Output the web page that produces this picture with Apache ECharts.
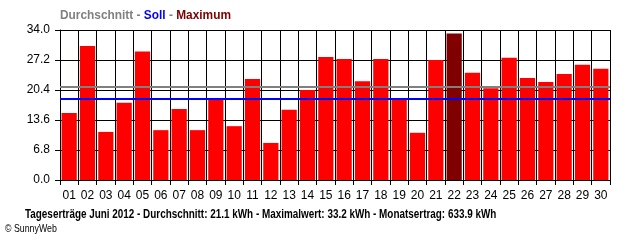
<!DOCTYPE html>
<html>
<head>
<meta charset="utf-8">
<script src="https://cdn.jsdelivr.net/npm/echarts@6/dist/echarts.min.js"></script>
<style>
html,body{margin:0;padding:0;background:#fff;}
#c{width:640px;height:240px;}
</style>
</head>
<body>
<div id="c"></div>
<script>
const days = ['01','02','03','04','05','06','07','08','09','10','11','12','13','14','15','16','17','18','19','20','21','22','23','24','25','26','27','28','29','30'];
const yields = [15.2,30.4,10.9,17.5,29.1,11.3,16.1,11.3,18.5,12.2,22.9,8.4,15.9,20.4,27.9,27.4,22.4,27.4,18.5,10.7,27.2,33.2,24.3,20.8,27.7,23.1,22.2,24.0,26.1,25.2];
const averageValue = 21.1;
const targetValue = 18.5;
const yTicks = [0, 6.8, 13.6, 20.4, 27.2, 34.0];
const legendParts = ['Durchschnitt', 'Soll', 'Maximum'];
const footerText = 'Tageserträge Juni 2012 - Durchschnitt: 21.1 kWh - Maximalwert: 33.2 kWh - Monatsertrag: 633.9 kWh';
const copyrightText = '© SunnyWeb';

const maxVal = Math.max(...yields);
const barData = yields.map(v => ({
  value: v,
  itemStyle: { color: v === maxVal ? '#800000' : '#ff0000' }
}));

const fam = '"Liberation Sans", Arial, sans-serif';
const chart = echarts.init(document.getElementById('c'), null, {renderer: 'canvas'});
chart.setOption({
  animation: false,
  backgroundColor: '#ffffff',
  graphic: [
    {
      type: 'text', x: 60, y: 10, scaleX: 0.99, silent: true,
      style: {
        text: '{g|' + legendParts[0] + ' - }{b|' + legendParts[1] + '}{g| - }{r|' + legendParts[2] + '}',
        font: 'bold 12px ' + fam,
        verticalAlign: 'top',
        rich: {
          g: {fill: '#808080', font: 'bold 12px ' + fam},
          b: {fill: '#0000ff', font: 'bold 12px ' + fam},
          r: {fill: '#800000', font: 'bold 12px ' + fam}
        }
      }
    },
    {
      type: 'text', x: 25, y: 209, scaleX: 0.825, silent: true,
      style: {text: footerText, font: 'bold 12px ' + fam, fill: '#000', verticalAlign: 'top'}
    },
    {
      type: 'text', x: 5, y: 223, scaleX: 0.8, silent: true,
      style: {text: copyrightText, font: '11px ' + fam, fill: '#000', verticalAlign: 'top'}
    }
  ],
  grid: {left: 60, right: 30, top: 30, bottom: 60, containLabel: false},
  xAxis: {
    type: 'category',
    data: days,
    boundaryGap: true,
    axisLine: {show: true, lineStyle: {color: '#000', width: 1}},
    axisTick: {show: true, length: 5, lineStyle: {color: '#000'}},
    axisLabel: {color: '#000', fontFamily: fam, fontSize: 12, margin: 10, interval: 0},
    splitLine: {show: true, lineStyle: {color: '#000', width: 1}}
  },
  yAxis: {
    type: 'value',
    min: yTicks[0], max: yTicks[yTicks.length - 1], interval: yTicks[1],
    axisLine: {show: true, lineStyle: {color: '#000', width: 1}},
    axisTick: {show: true, length: 5, lineStyle: {color: '#000'}},
    axisLabel: {color: '#000', fontFamily: fam, fontSize: 12, margin: 10, formatter: v => v.toFixed(1)},
    splitLine: {show: true, lineStyle: {color: '#000', width: 1}}
  },
  series: [{
    type: 'bar',
    data: barData,
    barCategoryGap: '17%',
    markLine: {
      silent: true,
      symbol: 'none',
      label: {show: false},
      animation: false,
      data: [
        {yAxis: averageValue, lineStyle: {color: '#808080', width: 2, type: 'solid'}},
        {yAxis: targetValue, lineStyle: {color: '#0000ff', width: 2, type: 'solid'}}
      ]
    }
  }]
});
</script>
</body>
</html>
